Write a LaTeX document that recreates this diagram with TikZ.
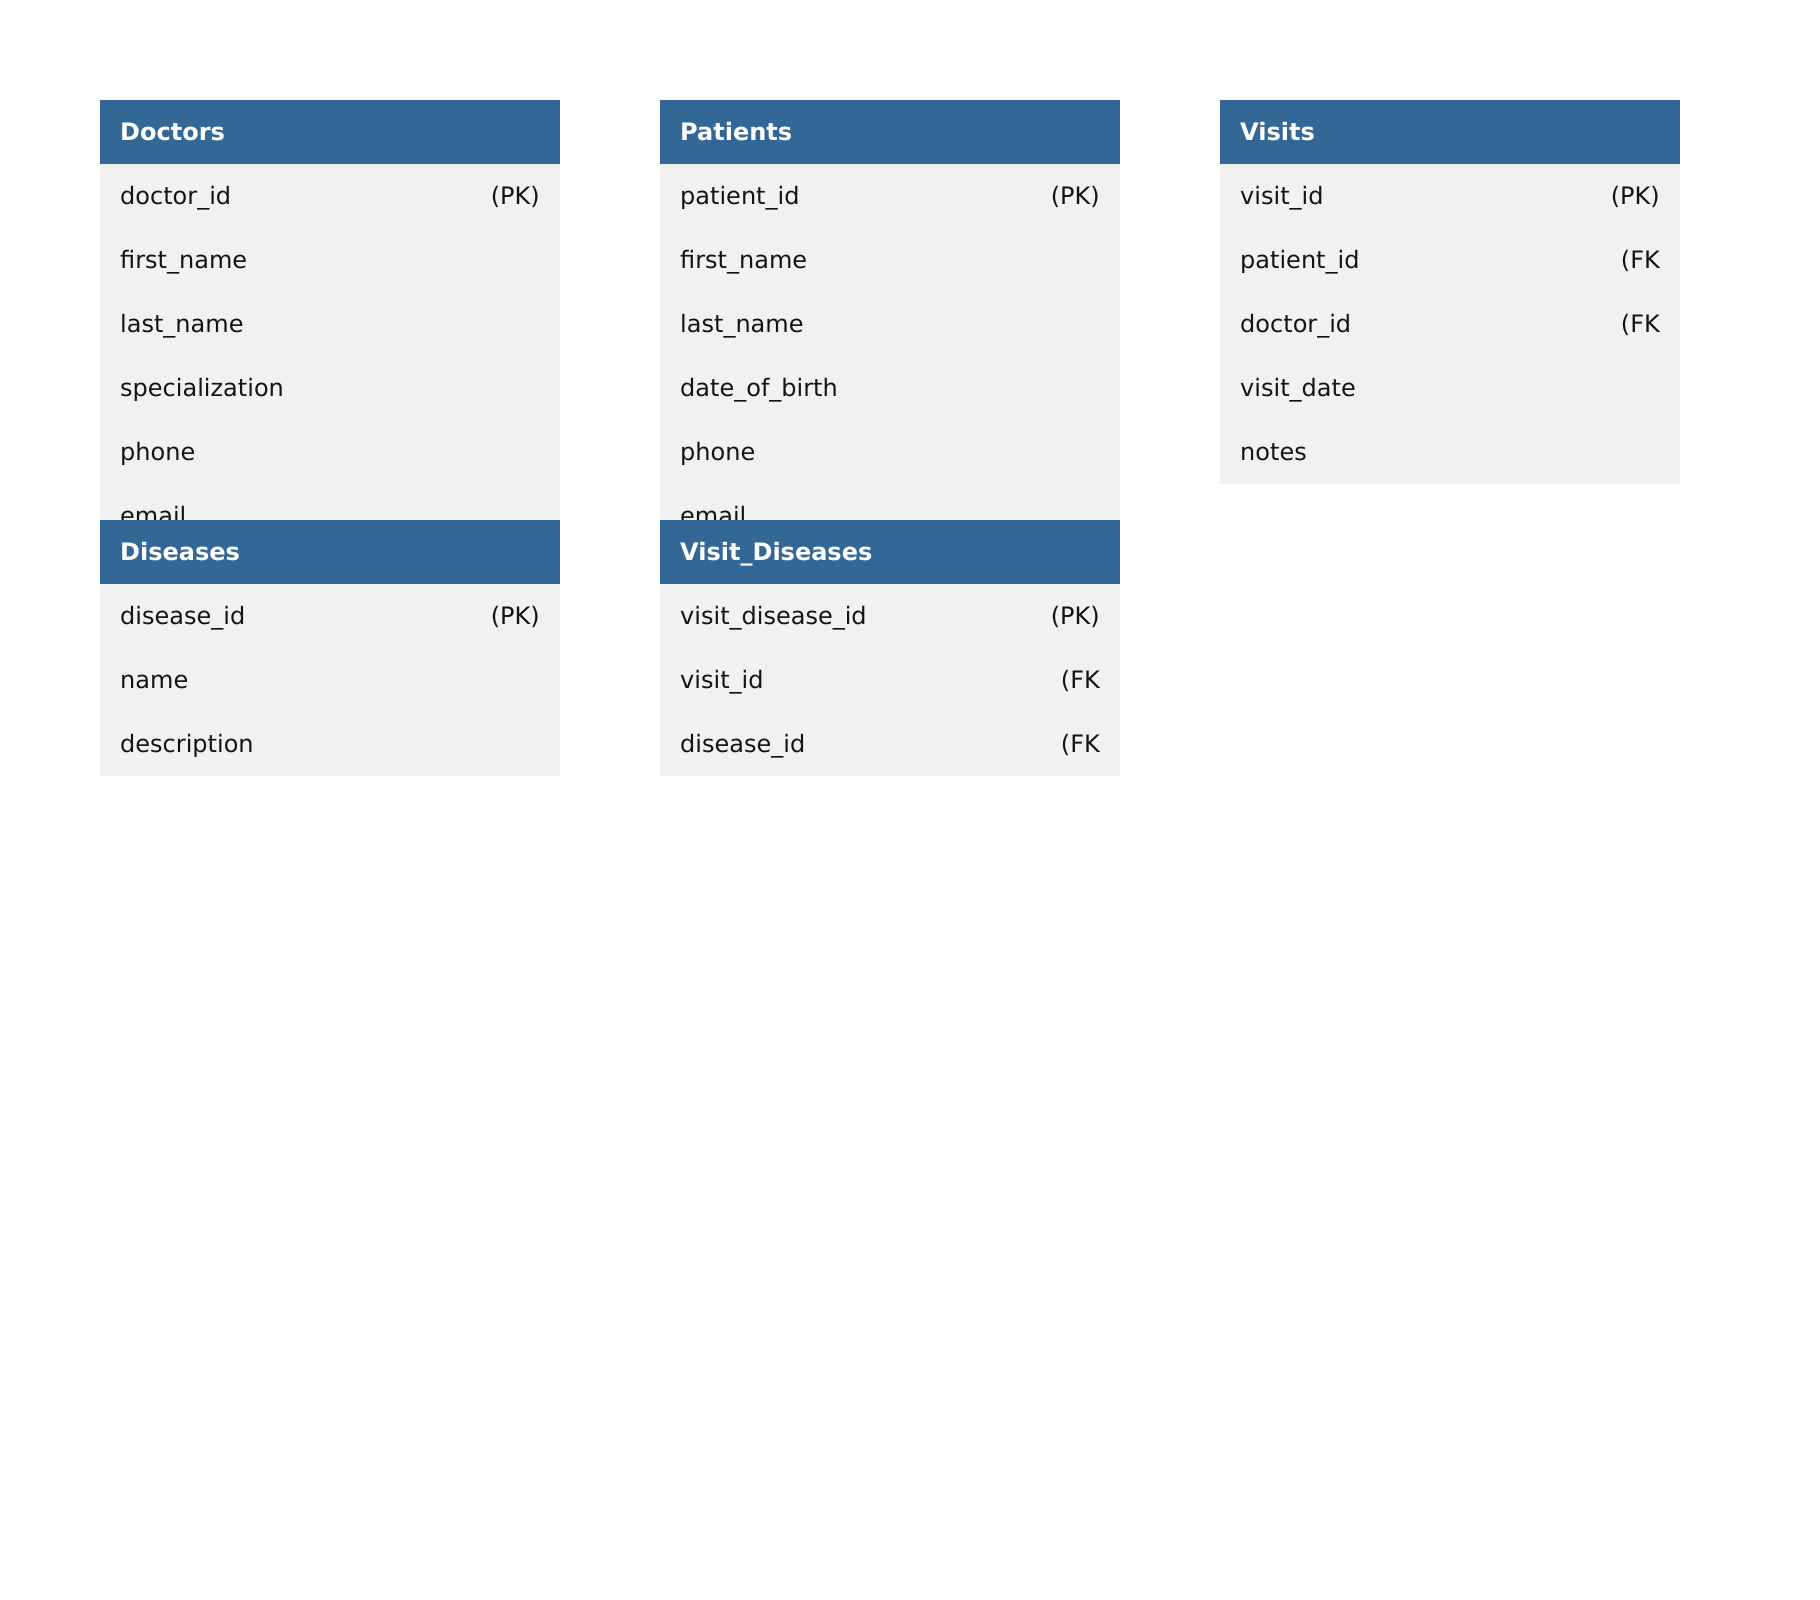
\documentclass[tikz,border=0pt]{standalone}
\usepackage{fontspec}
\setmainfont{DejaVu Sans}
\definecolor{hdr}{RGB}{51,104,150}
\definecolor{bodyc}{RGB}{241,241,241}
\definecolor{txt}{RGB}{20,20,20}
\begin{document}
\begin{tikzpicture}[x=1pt,y=-1pt,
  hdrbox/.style={rectangle, fill=hdr, draw=none, anchor=north west, minimum width=460pt, minimum height=64pt, inner sep=0pt, outer sep=0pt},
  bodybox/.style={rectangle, fill=bodyc, draw=none, anchor=north west, minimum width=460pt, inner sep=0pt, outer sep=0pt},
  hdrtext/.style={anchor=base west, inner sep=0pt, text=white, font=\fontsize{24}{28}\selectfont\bfseries},
  fieldtext/.style={anchor=base west, inner sep=0pt, text=txt, font=\fontsize{24}{28}\selectfont},
  keytext/.style={anchor=base east, inner sep=0pt, text=txt, font=\fontsize{24}{28}\selectfont}]
\path[use as bounding box, fill=white] (0,0) rectangle (1820,1600);

% Doctors
\node[hdrbox] (doc-h) at (100,100) {};
\node[bodybox, minimum height=384pt] (doc-b) at (100,164) {};
\node[hdrtext] (doc-t) at (120,140.5) {Doctors};
\foreach \f/\k [count=\i from 0] in {doctor\_id/{(PK)}, first\_name/{}, last\_name/{}, specialization/{}, phone/{}, email/{}}{
  \node[fieldtext] (doc-f\i) at (120,{204.5+64*\i}) {\f};
  \node[keytext] (doc-k\i) at (540,{204.5+64*\i}) {\k};
}

% Patients
\node[hdrbox] (pat-h) at (660,100) {};
\node[bodybox, minimum height=384pt] (pat-b) at (660,164) {};
\node[hdrtext] (pat-t) at (680,140.5) {Patients};
\foreach \f/\k [count=\i from 0] in {patient\_id/{(PK)}, first\_name/{}, last\_name/{}, date\_of\_birth/{}, phone/{}, email/{}}{
  \node[fieldtext] (pat-f\i) at (680,{204.5+64*\i}) {\f};
  \node[keytext] (pat-k\i) at (1100,{204.5+64*\i}) {\k};
}

% Visits
\node[hdrbox] (vis-h) at (1220,100) {};
\node[bodybox, minimum height=320pt] (vis-b) at (1220,164) {};
\node[hdrtext] (vis-t) at (1240,140.5) {Visits};
\foreach \f/\k [count=\i from 0] in {visit\_id/{(PK)}, patient\_id/{(FK}, doctor\_id/{(FK}, visit\_date/{}, notes/{}}{
  \node[fieldtext] (vis-f\i) at (1240,{204.5+64*\i}) {\f};
  \node[keytext] (vis-k\i) at (1660,{204.5+64*\i}) {\k};
}

% Diseases
\node[hdrbox] (dis-h) at (100,520) {};
\node[bodybox, minimum height=192pt] (dis-b) at (100,584) {};
\node[hdrtext] (dis-t) at (120,560.5) {Diseases};
\foreach \f/\k [count=\i from 0] in {disease\_id/{(PK)}, name/{}, description/{}}{
  \node[fieldtext] (dis-f\i) at (120,{624.5+64*\i}) {\f};
  \node[keytext] (dis-k\i) at (540,{624.5+64*\i}) {\k};
}

% Visit_Diseases
\node[hdrbox] (vd-h) at (660,520) {};
\node[bodybox, minimum height=192pt] (vd-b) at (660,584) {};
\node[hdrtext] (vd-t) at (680,560.5) {Visit\_Diseases};
\foreach \f/\k [count=\i from 0] in {visit\_disease\_id/{(PK)}, visit\_id/{(FK}, disease\_id/{(FK}}{
  \node[fieldtext] (vd-f\i) at (680,{624.5+64*\i}) {\f};
  \node[keytext] (vd-k\i) at (1100,{624.5+64*\i}) {\k};
}
\end{tikzpicture}
\end{document}
